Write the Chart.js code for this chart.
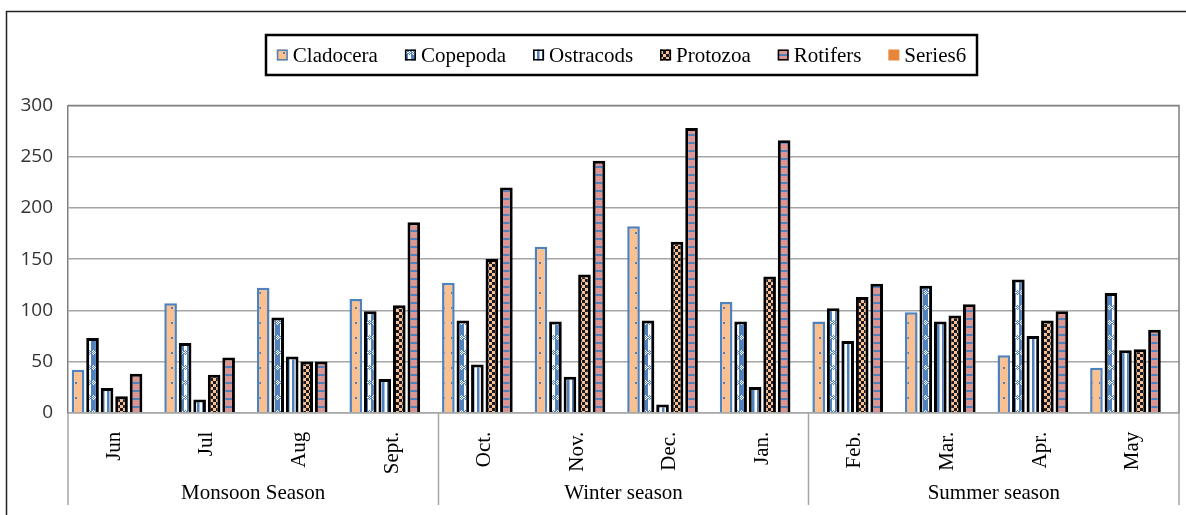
<!DOCTYPE html>
<html>
<head>
<meta charset="utf-8">
<title>Zooplankton by month and season</title>
<script src="https://cdn.jsdelivr.net/npm/chart.js@4/dist/chart.umd.min.js"></script>
<style>
  html, body { margin: 0; padding: 0; background: #fff; }
  #wrap { width: 1186px; height: 515px; position: relative; }
</style>
</head>
<body>
<div id="wrap"><canvas id="c" width="1186" height="515"></canvas></div>
<script>
// ---- data ----
const months = ['Jun', 'Jul', 'Aug', 'Sept.', 'Oct.', 'Nov.', 'Dec.', 'Jan.', 'Feb.', 'Mar.', 'Apr.', 'May'];
const seasonLabels = ['Monsoon Season', 'Winter season', 'Summer season'];
const seasonSpans = [4, 4, 4];
const seriesNames = ['Cladocera', 'Copepoda', 'Ostracods', 'Protozoa', 'Rotifers', 'Series6'];

const cladocera = [42, 107, 122, 111, 127, 162, 182, 108, 89, 98, 56, 44];
const copepoda  = [73, 68, 93, 99, 90, 89, 90, 89, 102, 124, 130, 117];
const ostracods = [24, 13, 55, 33, 47, 35, 8, 25, 70, 89, 75, 61];
const protozoa  = [16, 37, 50, 105, 150, 135, 167, 133, 113, 95, 90, 62];
const rotifers  = [38, 54, 50, 186, 220, 246, 278, 266, 126, 106, 99, 81];
const series6   = [];

const yTicks = [0, 50, 100, 150, 200, 250, 300];

// ---- fill patterns ----
const BLUE = '#4F81BD';
const PEACH = '#FAC090';
const PINK = '#D99694';

function makePattern(w, h, paint) {
  const cv = document.createElement('canvas');
  cv.width = w; cv.height = h;
  const g = cv.getContext('2d');
  paint(g);
  return document.getElementById('c').getContext('2d').createPattern(cv, 'repeat');
}

// peach with small blue dots
const patCladocera = makePattern(8, 15, g => {
  g.fillStyle = PEACH; g.fillRect(0, 0, 8, 15);
  g.fillStyle = BLUE; g.fillRect(3, 7, 2, 2);
});
// blue / white weave with small cross motifs
const patCopepoda = makePattern(8, 15, g => {
  g.fillStyle = '#fff'; g.fillRect(0, 0, 4, 15);
  g.fillStyle = BLUE; g.fillRect(3, 0, 5, 15);
  g.fillStyle = BLUE;
  [[1, 5], [0, 6], [2, 6], [1, 7], [0, 8], [2, 8], [1, 9]].forEach(([x, y]) => g.fillRect(x, y, 1, 1));
  g.fillStyle = '#fff';
  [[5, 5], [4, 6], [6, 6], [5, 7], [7, 7], [4, 8], [6, 8], [5, 9]].forEach(([x, y]) => g.fillRect(x, y, 1, 1));
});
// white with blue vertical stripes
const patOstracods = makePattern(5, 4, g => {
  g.fillStyle = '#fff'; g.fillRect(0, 0, 5, 4);
  g.fillStyle = BLUE; g.fillRect(2, 0, 2, 4);
  g.fillStyle = '#A7C0DE'; g.fillRect(4, 0, 1, 4);
});
// peach / dark checkerboard
const patProtozoa = makePattern(6, 6, g => {
  g.fillStyle = PEACH; g.fillRect(0, 0, 6, 6);
  g.fillStyle = '#1A1A24'; g.fillRect(0, 0, 3, 3); g.fillRect(3, 3, 3, 3);
});
// pink with blue horizontal stripes
const patRotifers = makePattern(4, 8, g => {
  g.fillStyle = PINK; g.fillRect(0, 0, 4, 8);
  g.fillStyle = BLUE; g.fillRect(0, 6, 4, 2);
});

const seriesValues = [cladocera, copepoda, ostracods, protozoa, rotifers, series6];
const seriesFills = [patCladocera, patCopepoda, patOstracods, patProtozoa, patRotifers, '#E8873A'];
const seriesBorders = [BLUE, '#000', '#000', '#000', '#000', '#E8873A'];
const seriesBorderWidths = [2.5, 3, 3, 3, 3, 0];

const datasets = seriesNames.map((name, i) => ({
  label: name,
  data: seriesValues[i],
  backgroundColor: seriesFills[i],
  borderColor: seriesBorders[i],
  borderWidth: seriesBorderWidths[i],
  categoryPercentage: 0.94,
  barPercentage: 0.87
}));

const SERIF = '"Liberation Serif", "Times New Roman", serif';

// boxed legend across the top
const boxedLegend = {
  id: 'boxedLegend',
  afterDraw(chart) {
    const ctx = chart.ctx;
    const box = { x: 266, y: 35, w: 711, h: 40 };
    ctx.save();
    ctx.lineWidth = 2.5;
    ctx.strokeStyle = '#000';
    ctx.strokeRect(box.x, box.y, box.w, box.h);

    ctx.font = '21px ' + SERIF;
    ctx.textBaseline = 'middle';
    ctx.fillStyle = '#000';
    const sw = 11, swGap = 5, itemGap = 27;
    const ds = chart.data.datasets;
    const widths = ds.map(d => sw + swGap + ctx.measureText(d.label).width);
    const total = widths.reduce((a, b) => a + b, 0) + itemGap * (ds.length - 1);
    let x = box.x + (box.w - total) / 2;
    const cy = box.y + box.h / 2;
    ds.forEach((d, i) => {
      ctx.fillStyle = d.backgroundColor;
      ctx.fillRect(x, cy - sw / 2, sw, sw);
      if (d.borderWidth > 0) {
        ctx.lineWidth = 1.5;
        ctx.strokeStyle = d.borderColor;
        ctx.strokeRect(x + 0.75, cy - sw / 2 + 0.75, sw - 1.5, sw - 1.5);
      }
      ctx.fillStyle = '#000';
      ctx.textAlign = 'left';
      ctx.fillText(d.label, x + sw + swGap, cy + 1);
      x += widths[i] + itemGap;
    });
    ctx.restore();
  }
};

// plot frame, season separators and season names, outer frame
const frameAndSeasons = {
  id: 'frameAndSeasons',
  afterDraw(chart) {
    const ctx = chart.ctx;
    const a = chart.chartArea;
    const xs = chart.scales.x;
    const catW = (a.right - a.left) / months.length;
    ctx.save();

    // plot-area outline (top and right)
    ctx.strokeStyle = '#808080';
    ctx.lineWidth = 1.5;
    ctx.beginPath();
    ctx.moveTo(a.left, a.top);
    ctx.lineTo(a.right, a.top);
    ctx.lineTo(a.right, a.bottom);
    ctx.stroke();

    // season group separators + labels
    const lineBottom = 505;
    ctx.strokeStyle = '#A6A6A6';
    ctx.lineWidth = 1.5;
    ctx.font = '21px ' + SERIF;
    ctx.fillStyle = '#000';
    ctx.textAlign = 'center';
    ctx.textBaseline = 'middle';
    let start = 0;
    const bounds = [];
    seasonSpans.forEach((n, i) => {
      const left = xs.getPixelForValue(start) - catW / 2;
      const right = xs.getPixelForValue(start + n - 1) + catW / 2;
      bounds.push(left, right);
      ctx.fillText(seasonLabels[i], (left + right) / 2, 493);
      start += n;
    });
    [...new Set(bounds.map(b => Math.round(b * 2) / 2))].forEach(bx => {
      ctx.beginPath();
      ctx.moveTo(bx, a.bottom);
      ctx.lineTo(bx, lineBottom);
      ctx.stroke();
    });

    // outer chart frame
    ctx.strokeStyle = '#222';
    ctx.lineWidth = 1.5;
    ctx.beginPath();
    ctx.moveTo(6.5, chart.height);
    ctx.lineTo(6.5, 11.5);
    ctx.lineTo(chart.width, 11.5);
    ctx.stroke();
    ctx.restore();
  }
};

new Chart(document.getElementById('c'), {
  type: 'bar',
  data: { labels: months, datasets },
  options: {
    responsive: false,
    animation: false,
    devicePixelRatio: 1,
    layout: { padding: { top: 105.5, right: 7, left: 0, bottom: 0 } },
    plugins: {
      legend: { display: false },
      tooltip: { enabled: false }
    },
    scales: {
      x: {
        grid: { display: false },
        border: { display: true, color: '#A6A6A6', width: 1.5 },
        ticks: {
          autoSkip: false,
          minRotation: 90,
          maxRotation: 90,
          padding: 11,
          color: '#000',
          font: { family: SERIF, size: 21 }
        },
        afterFit(s) { s.height = 102.3; }
      },
      y: {
        min: 0,
        max: 300,
        afterBuildTicks(s) { s.ticks = yTicks.map(v => ({ value: v })); },
        grid: { color: '#A6A6A6', lineWidth: 1.5, drawTicks: false },
        border: { display: true, color: '#808080', width: 1.5 },
        ticks: {
          padding: 15,
          color: '#333',
          font: { family: '"Open Sans", sans-serif', size: 19 }
        },
        afterFit(s) { s.width = 68; }
      }
    }
  },
  plugins: [boxedLegend, frameAndSeasons]
});
</script>
</body>
</html>
